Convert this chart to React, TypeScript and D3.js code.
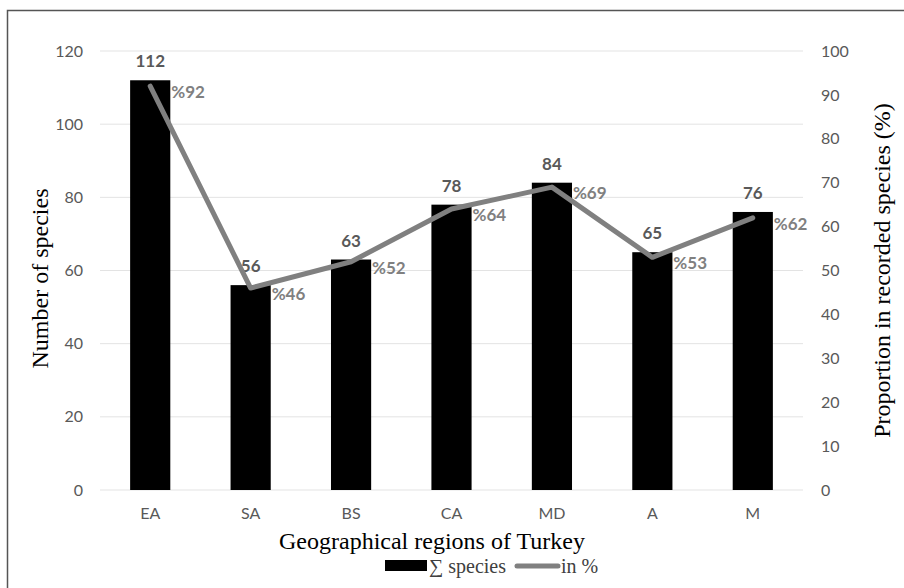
import React from "react";
import * as d3 from "d3";

const categories = ["EA", "SA", "BS", "CA", "MD", "A", "M"];
const speciesCounts = [112, 56, 63, 78, 84, 65, 76];
const percentages = [92, 46, 52, 64, 69, 53, 62];
const leftTicks = [0, 20, 40, 60, 80, 100, 120];
const rightTicks = [0, 10, 20, 30, 40, 50, 60, 70, 80, 90, 100];

const W = 904;
const H = 588;
const plotLeft = 100;
const plotRight = 803;
const plotTop = 51;
const plotBottom = 490;
const sans = "Lato, 'Open Sans', sans-serif";
const serif = "'Liberation Serif', 'DejaVu Serif', serif";

export default function App() {
  const x = d3.scaleBand<string>().domain(categories).range([plotLeft, plotRight]).paddingInner(0.6).paddingOuter(0.3);
  const xc = (c: string) => (x(c) as number) + x.bandwidth() / 2;
  const yL = d3.scaleLinear().domain([0, 120]).range([plotBottom, plotTop]);
  const yR = d3.scaleLinear().domain([0, 100]).range([plotBottom, plotTop]);
  const line = d3
    .line<number>()
    .x((_, i) => xc(categories[i]))
    .y((d) => yR(d));

  return (
    <svg width={W} height={H} style={{ position: "absolute", left: 0, top: 0, background: "#fff" }}>
      <rect x={0} y={0} width={W} height={H} fill="#fff" />
      <path d={`M7.5,${H} V10.5 H${W}`} fill="none" stroke="#555" strokeWidth={1.5} />
      {leftTicks.map((t) => (
        <g key={"l" + t}>
          <line x1={plotLeft} x2={plotRight} y1={yL(t)} y2={yL(t)} stroke="#e3e3e3" strokeWidth={1} />
          <text x={83} y={yL(t)} dy="0.35em" textAnchor="end" fontFamily={sans} fontSize={16} fill="#595959">
            {t}
          </text>
        </g>
      ))}
      {rightTicks.map((t) => (
        <text key={"r" + t} x={821} y={yR(t)} dy="0.35em" textAnchor="start" fontFamily={sans} fontSize={16} fill="#595959">
          {t}
        </text>
      ))}
      {categories.map((c, i) => (
        <g key={c}>
          <rect x={x(c)} y={yL(speciesCounts[i])} width={x.bandwidth()} height={plotBottom - yL(speciesCounts[i])} fill="#000" />
          <text x={xc(c)} y={513} dy="0.35em" textAnchor="middle" fontFamily={sans} fontSize={16} fill="#595959">
            {c}
          </text>
          <text x={xc(c)} y={yL(speciesCounts[i]) - 13} textAnchor="middle" fontFamily={sans} fontSize={17} fontWeight="bold" fill="#595959">
            {speciesCounts[i]}
          </text>
        </g>
      ))}
      <path d={line(percentages) || ""} fill="none" stroke="#808080" strokeWidth={5} strokeLinejoin="round" strokeLinecap="round" />
      {categories.map((c, i) => (
        <text key={"p" + c} x={xc(c) + 21} y={yR(percentages[i]) + 6} dy="0.35em" textAnchor="start" fontFamily={sans} fontSize={17} fontWeight="bold" fill="#808080">
          {"%" + percentages[i]}
        </text>
      ))}
      <text transform={`translate(40,${(plotTop + plotBottom) / 2 + 8}) rotate(-90)`} textAnchor="middle" dy="0.35em" fontFamily={serif} fontSize={24} fill="#000">
        Number of species
      </text>
      <text transform={`translate(882,${(plotTop + plotBottom) / 2}) rotate(-90)`} textAnchor="middle" dy="0.35em" fontFamily={serif} fontSize={24} fill="#000">
        Proportion in recorded species (%)
      </text>
      <text x={432} y={541} dy="0.35em" textAnchor="middle" fontFamily={serif} fontSize={24} fill="#000">
        Geographical regions of Turkey
      </text>
      <rect x={385} y={560} width={42} height={11} fill="#000" />
      <text x={429} y={566} dy="0.35em" fontFamily={serif} fontSize={20} fill="#404040">
        ∑ species
      </text>
      <line x1={517} x2={558} y1={566} y2={566} stroke="#808080" strokeWidth={5} strokeLinecap="round" />
      <text x={561} y={566} dy="0.35em" fontFamily={serif} fontSize={20} fill="#404040">
        in %
      </text>
    </svg>
  );
}
